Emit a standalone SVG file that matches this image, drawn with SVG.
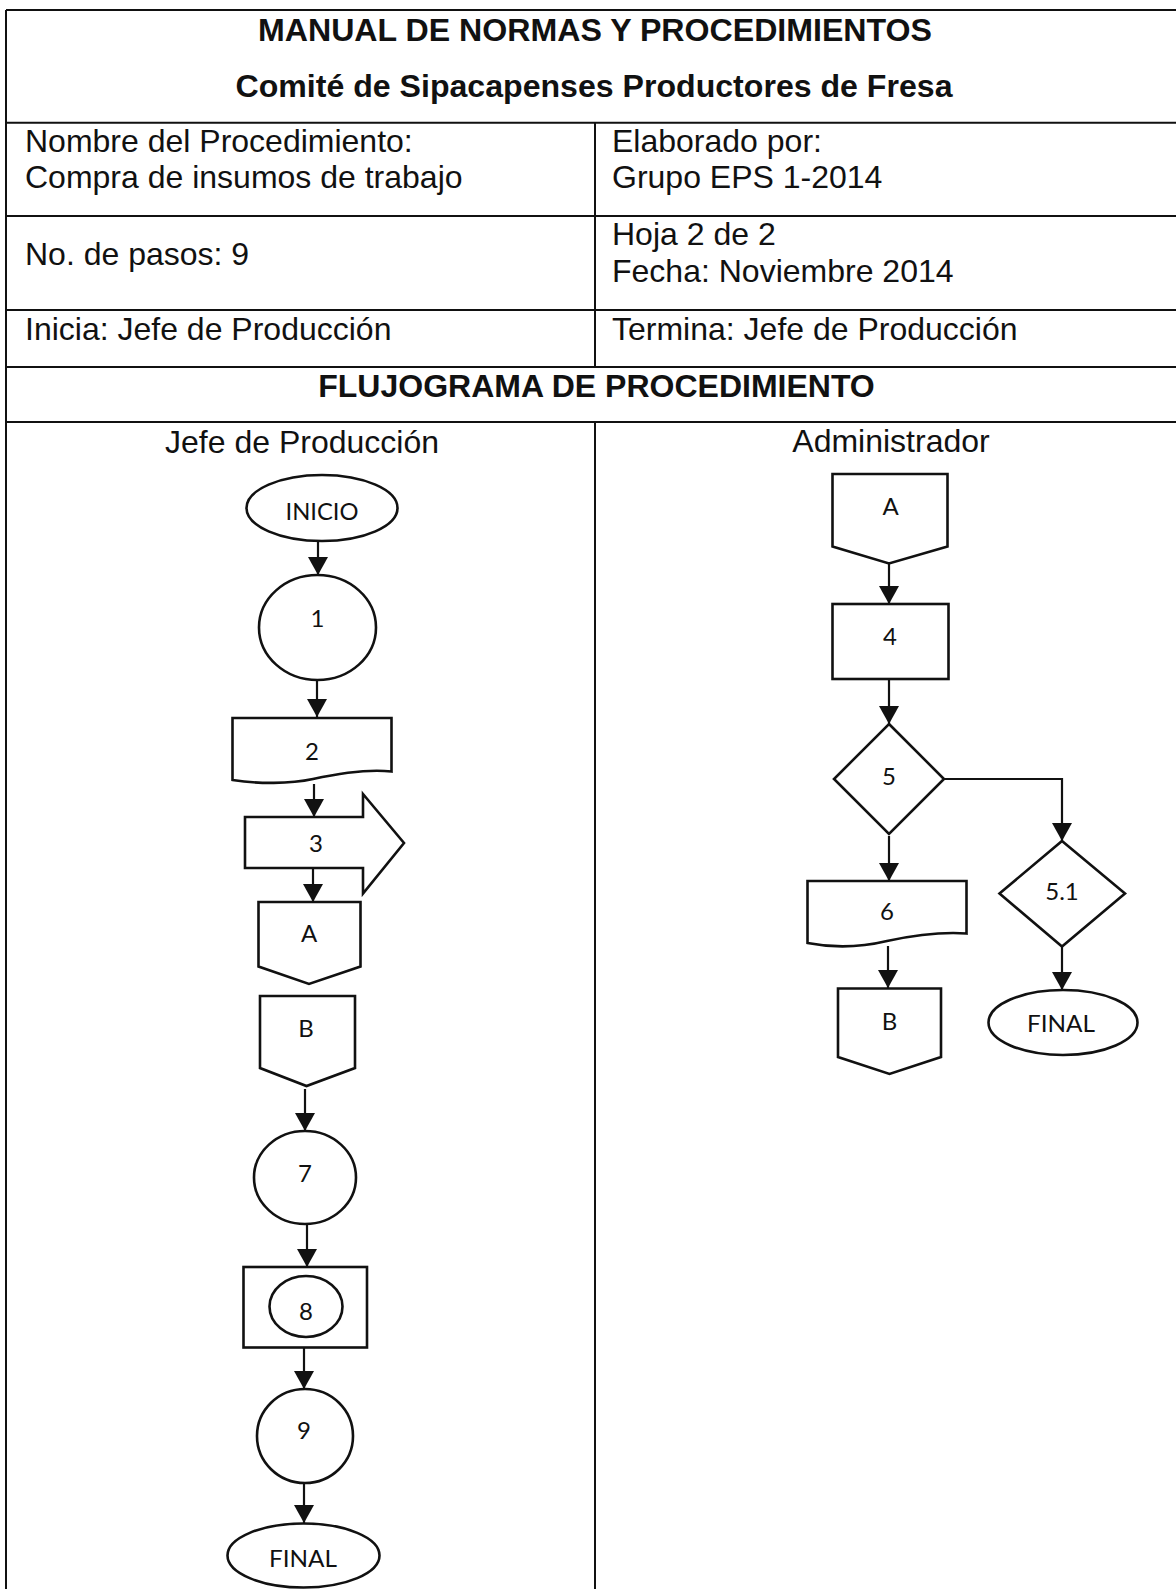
<svg xmlns="http://www.w3.org/2000/svg" width="1176" height="1589" viewBox="0 0 1176 1589">
<style>
.grid{stroke:#111;stroke-width:2;fill:none}
.hd{font-family:"Liberation Sans",Arial,sans-serif;font-size:32px;fill:#111}
.hb{font-family:"Liberation Sans",Arial,sans-serif;font-size:32px;font-weight:bold;fill:#111;text-anchor:middle}
.sh{fill:#fff;stroke:#111;stroke-width:2.6}
.lb{font-family:Lato,"Open Sans",sans-serif;font-size:24px;fill:#111;text-anchor:middle}
.cn{stroke:#111;stroke-width:2.2;fill:none;marker-end:url(#ah)}
</style>
<defs>
<marker id="ah" viewBox="0 0 18 20" refX="18" refY="10" markerWidth="18" markerHeight="20" markerUnits="userSpaceOnUse" orient="auto">
<path d="M0,0 L18,10 L0,20 z" fill="#111"/>
</marker>
</defs>
<rect width="1176" height="1589" fill="#fff"/>
<g id="table">
<path class="grid" d="M6,10 H1176 M6,122.7 H1176 M6,216 H1176 M6,310 H1176 M6,367 H1176 M6,422 H1176 M6,10 V1589 M595,122.7 V367 M595,422 V1589"/>
<text class="hb" x="595" y="40.5" textLength="674" lengthAdjust="spacingAndGlyphs">MANUAL DE NORMAS Y PROCEDIMIENTOS</text>
<text class="hb" x="594" y="96.5" textLength="717" lengthAdjust="spacingAndGlyphs">Comité de Sipacapenses Productores de Fresa</text>
<text class="hd" x="25" y="151.5">Nombre del Procedimiento:</text>
<text class="hd" x="25" y="188">Compra de insumos de trabajo</text>
<text class="hd" x="612" y="151.5">Elaborado por:</text>
<text class="hd" x="612" y="188">Grupo EPS 1-2014</text>
<text class="hd" x="25" y="265">No. de pasos: 9</text>
<text class="hd" x="612" y="245">Hoja 2 de 2</text>
<text class="hd" x="612" y="281.5">Fecha: Noviembre 2014</text>
<text class="hd" x="25" y="340">Inicia: Jefe de Producción</text>
<text class="hd" x="612" y="340">Termina: Jefe de Producción</text>
<text class="hb" x="596.5" y="396.5">FLUJOGRAMA DE PROCEDIMIENTO</text>
<text class="hd" x="302" y="453" text-anchor="middle">Jefe de Producción</text>
<text class="hd" x="891" y="452" text-anchor="middle">Administrador</text>
</g>
<g id="connectors">
<path class="cn" d="M318,541 V575"/>
<path class="cn" d="M317,681 V717"/>
<path class="cn" d="M314,784 V817"/>
<path class="cn" d="M313,864 V902"/>
<path class="cn" d="M305,1089 V1131"/>
<path class="cn" d="M307,1224 V1267"/>
<path class="cn" d="M304,1348 V1389"/>
<path class="cn" d="M304,1483 V1523"/>
<path class="cn" d="M889,563 V604"/>
<path class="cn" d="M889,679 V724"/>
<path class="cn" d="M944,779 H1062 V841"/>
<path class="cn" d="M889,836 V881"/>
<path class="cn" d="M1062,947 V990"/>
<path class="cn" d="M888,946 V988"/>
</g>
<g id="inicio">
<ellipse class="sh" cx="322" cy="508" rx="75.5" ry="33"/>
<text class="lb" x="322" y="520" textLength="73" lengthAdjust="spacingAndGlyphs">INICIO</text>
</g>
<g id="n1">
<ellipse class="sh" cx="317.5" cy="627.5" rx="58.5" ry="52.5"/>
<text class="lb" x="317.5" y="627">1</text>
</g>
<g id="n2">
<path class="sh" d="M232.5,718 H391.5 V771.5 C370,769 345,772 313,779 C290,784 258,784 232.5,780 Z"/>
<text class="lb" x="312" y="760">2</text>
</g>
<g id="n3">
<path class="sh" d="M245,817 H363 V794 L404,843 L363,893.5 V868 H245 Z"/>
<text class="lb" x="316" y="851.5">3</text>
</g>
<g id="connA1">
<path class="sh" d="M258.5,902 H360.5 V966.5 L309,984 L258.5,966.5 Z"/>
<text class="lb" x="309" y="942">A</text>
</g>
<g id="connB1">
<path class="sh" d="M260,996 H355 V1068 L306.5,1086 L260,1068 Z"/>
<text class="lb" x="306" y="1037">B</text>
</g>
<g id="n7">
<ellipse class="sh" cx="305" cy="1177.5" rx="51" ry="46.5"/>
<text class="lb" x="305" y="1182">7</text>
</g>
<g id="n8">
<rect class="sh" x="243.5" y="1267" width="123.5" height="80.5"/>
<ellipse class="sh" cx="306" cy="1306.5" rx="36.5" ry="30.5"/>
<text class="lb" x="306" y="1320">8</text>
</g>
<g id="n9">
<ellipse class="sh" cx="305" cy="1436" rx="48" ry="47"/>
<text class="lb" x="304" y="1439">9</text>
</g>
<g id="final1">
<ellipse class="sh" cx="303.5" cy="1555.5" rx="76" ry="32"/>
<text class="lb" x="303" y="1566.5" textLength="68" lengthAdjust="spacingAndGlyphs">FINAL</text>
</g>
<g id="connA2">
<path class="sh" d="M832.5,474 H947.5 V546.5 L889,563.5 L832.5,546.5 Z"/>
<text class="lb" x="890.5" y="514.5">A</text>
</g>
<g id="n4">
<rect class="sh" x="832.5" y="604" width="116" height="75"/>
<text class="lb" x="890" y="645">4</text>
</g>
<g id="n5">
<path class="sh" d="M889,724 L944,779 L889,834 L834,779 Z"/>
<text class="lb" x="889" y="785">5</text>
</g>
<g id="n51">
<path class="sh" d="M1062,841 L1125,893.5 L1062,946.5 L999.5,893.5 Z"/>
<text class="lb" x="1062" y="900">5.1</text>
</g>
<g id="n6">
<path class="sh" d="M807.5,881 H966.5 V933.5 C945,932 915,935 887,941 C862,947 833,948 807.5,943 Z"/>
<text class="lb" x="887" y="920">6</text>
</g>
<g id="connB2">
<path class="sh" d="M838,988.5 H941 V1057 L889.5,1074 L838,1057 Z"/>
<text class="lb" x="889.5" y="1030">B</text>
</g>
<g id="final2">
<ellipse class="sh" cx="1063" cy="1022.5" rx="74.5" ry="32.5"/>
<text class="lb" x="1061" y="1032" textLength="68" lengthAdjust="spacingAndGlyphs">FINAL</text>
</g>
</svg>
